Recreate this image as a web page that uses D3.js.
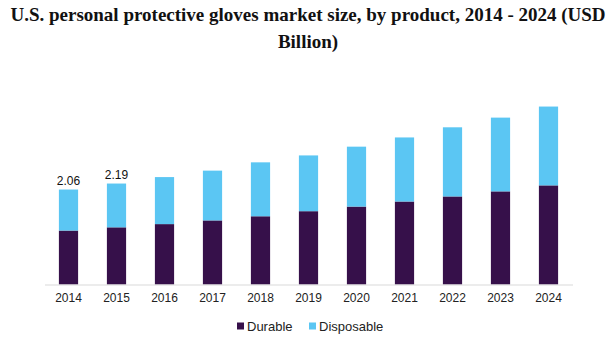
<!DOCTYPE html>
<html>
<head>
<meta charset="utf-8">
<script src="https://cdn.jsdelivr.net/npm/d3@7"></script>
<style>
  body { margin: 0; background: #fff; }
  svg { display: block; }
</style>
</head>
<body>
<div class="chart"></div>
<script>
const years = ['2014', '2015', '2016', '2017', '2018', '2019', '2020', '2021', '2022', '2023', '2024']
const durable = [1.17, 1.24, 1.31, 1.39, 1.48, 1.59, 1.69, 1.80, 1.91, 2.02, 2.15]
const disposable = [0.89, 0.95, 1.02, 1.08, 1.17, 1.21, 1.30, 1.39, 1.50, 1.60, 1.71]
const labelled = { '2014': '2.06', '2015': '2.19' }
const seriesNames = ['Durable', 'Disposable']
const colors = ['#36104a', '#5bc6f3']

const fullWidth = 616
const fullHeight = 339
const baseY = 284.5

const svg = d3.select('.chart')
  .append('svg')
    .attr('width', fullWidth)
    .attr('height', fullHeight)

// title
const title = svg.append('text')
  .attr('x', fullWidth / 2)
  .attr('text-anchor', 'middle')
  .style('font-family', "Georgia, 'Liberation Serif', serif")
  .style('font-weight', 'bold')
  .style('font-size', '19px')
  .style('fill', '#111')
title.append('tspan').attr('x', fullWidth / 2).attr('y', 21)
  .text('U.S. personal protective gloves market size, by product, 2014 - 2024 (USD')
title.append('tspan').attr('x', fullWidth / 2).attr('y', 48)
  .text('Billion)')

// scales
const xScale = d3.scaleBand()
  .domain(years)
  .range([44.5, 572.5])
  .paddingInner(0.6)
  .paddingOuter(0.3)

const yScale = d3.scaleLinear()
  .domain([0, 4])
  .range([baseY, baseY - 184.4])

// stacked data
const rows = years.map((y, i) => ({ year: y, Durable: durable[i], Disposable: disposable[i] }))
const stack = d3.stack().keys(seriesNames)(rows)

svg.append('g')
  .selectAll('g')
  .data(stack)
  .enter()
  .append('g')
    .style('fill', (d, i) => colors[i])
  .selectAll('rect')
  .data(d => d)
  .enter()
  .append('rect')
    .attr('x', d => xScale(d.data.year))
    .attr('y', d => yScale(d[1]))
    .attr('width', xScale.bandwidth())
    .attr('height', d => yScale(d[0]) - yScale(d[1]))

// x axis
const xAxis = d3.axisBottom(xScale)
  .tickSize(0)
  .tickPadding(9)
const gx = svg.append('g')
  .attr('transform', `translate(0, ${baseY})`)
  .call(xAxis)
gx.select('.domain').attr('stroke', '#d9d9d9')
gx.selectAll('text')
  .style('font-family', 'Arial, "Liberation Sans", sans-serif')
  .style('font-size', '12px')
  .style('fill', '#222')

// value labels
svg.append('g')
  .selectAll('text')
  .data(rows.filter(d => labelled[d.year]))
  .enter()
  .append('text')
    .attr('x', d => xScale(d.year) + xScale.bandwidth() / 2)
    .attr('y', d => yScale(d.Durable + d.Disposable) - 5)
    .attr('text-anchor', 'middle')
    .style('font-family', 'Arial, "Liberation Sans", sans-serif')
    .style('font-size', '12px')
    .style('fill', '#111')
    .text(d => labelled[d.year])

// legend
const legend = svg.append('g').attr('transform', 'translate(237, 326)')
const legendX = [0, 72]
seriesNames.forEach((name, i) => {
  const item = legend.append('g').attr('transform', `translate(${legendX[i]}, 0)`)
  item.append('rect')
    .attr('x', 0).attr('y', -3.5)
    .attr('width', 7).attr('height', 7)
    .style('fill', colors[i])
  item.append('text')
    .attr('x', 10).attr('y', 5)
    .style('font-family', 'Arial, "Liberation Sans", sans-serif')
    .style('font-size', '13px')
    .style('fill', '#222')
    .text(name)
})
</script>
</body>
</html>
